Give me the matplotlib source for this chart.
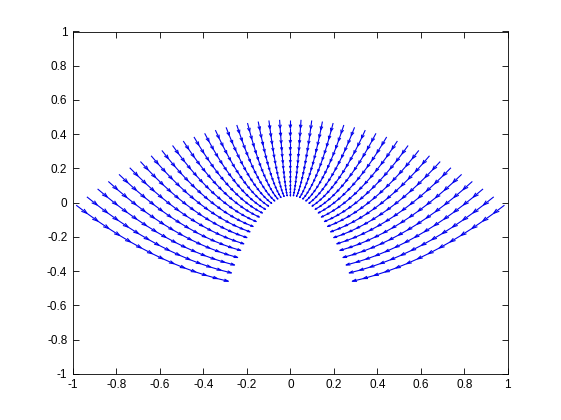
import numpy as np
import matplotlib
matplotlib.use("Agg")
import matplotlib.pyplot as plt
from matplotlib.collections import LineCollection

# --------------------------------------------------------------------------------
# DATA: parabolic grid (sigma across the fan, tau along each ray, outer -> inner)
# --------------------------------------------------------------------------------
sigma = np.linspace(-1.0, 1.0, 41)
tau = np.linspace(0.985, 0.285, 15)

tick_values = [-1, -0.8, -0.6, -0.4, -0.2, 0, 0.2, 0.4, 0.6, 0.8, 1]
tick_labels = ["-1", "-0.8", "-0.6", "-0.4", "-0.2", "0", "0.2", "0.4", "0.6", "0.8", "1"]

# --------------------------------------------------------------------------------
# HELPERS: matlab style quiver (shaft + open V head, built in data units)
# --------------------------------------------------------------------------------
def quiver_segments(x, y, u, v, alpha=0.4, beta=0.33):
    segs = []
    for xi, yi, ui, vi in zip(x, y, u, v):
        tipx, tipy = xi + ui, yi + vi
        segs.append([(xi, yi), (tipx, tipy)])
        h1 = (tipx - alpha * (ui + beta * vi), tipy - alpha * (vi - beta * ui))
        h2 = (tipx - alpha * (ui - beta * vi), tipy - alpha * (vi + beta * ui))
        segs.append([h1, (tipx, tipy), h2])
    return segs

# --------------------------------------------------------------------------------
# MAIN
# --------------------------------------------------------------------------------
S, T = np.meshgrid(sigma, tau)
X = S * T
Y = (T ** 2 - S ** 2) / 2

# vectors point from one grid point to the next one inward
U = X[1:, :] - X[:-1, :]
V = Y[1:, :] - Y[:-1, :]
segs = quiver_segments(X[:-1, :].ravel(), Y[:-1, :].ravel(), U.ravel(), V.ravel())

fig = plt.figure(figsize=(5.61, 4.20), dpi=100)
ax = fig.add_axes([0.13, 0.11, 0.775, 0.815])

ax.add_collection(LineCollection(segs, colors="#0000ee", linewidths=0.8))

ax.set_xlim(-1, 1)
ax.set_ylim(-1, 1)
ax.set_xticks(tick_values)
ax.set_yticks(tick_values)
ax.set_xticklabels(tick_labels)
ax.set_yticklabels(tick_labels)
ax.tick_params(direction="in", length=4, width=0.6, top=True, right=True,
               labelsize=8.5, pad=4)
for lbl in ax.get_xticklabels() + ax.get_yticklabels():
    lbl.set_family(["Liberation Sans", "DejaVu Sans"])
for sp in ax.spines.values():
    sp.set_linewidth(0.6)

fig.savefig("out.png", dpi=100)
